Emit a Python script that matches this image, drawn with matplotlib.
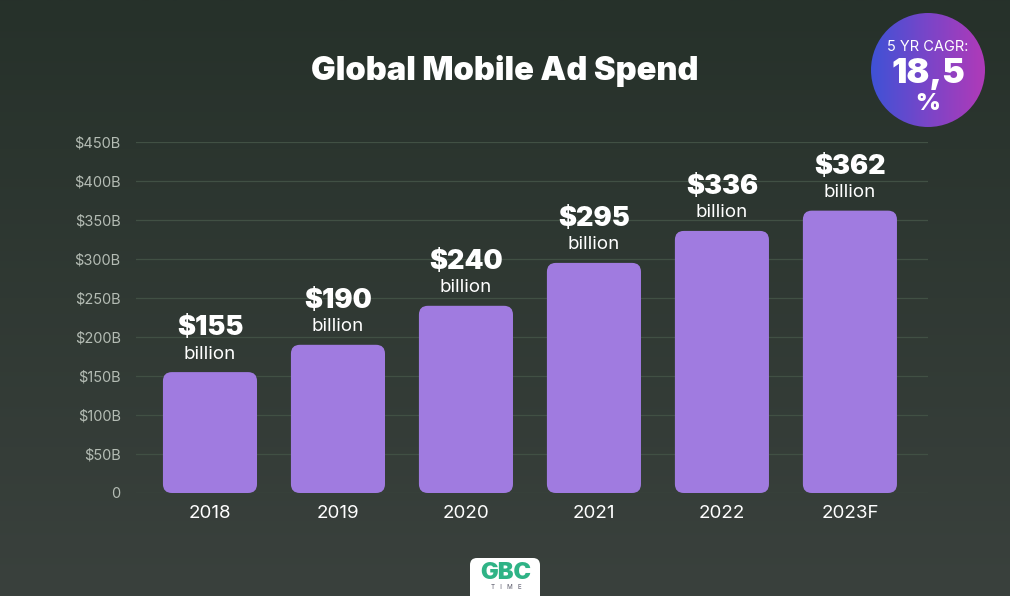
import numpy as np
import matplotlib
matplotlib.use("Agg")
import matplotlib.pyplot as plt
from matplotlib.patches import FancyBboxPatch, Circle
from matplotlib.colors import LinearSegmentedColormap

years = ["2018", "2019", "2020", "2021", "2022", "2023F"]
spend = [155, 190, 240, 295, 336, 362]
value_labels = ["$155", "$190", "$240", "$295", "$336", "$362"]
yticks = [0, 50, 100, 150, 200, 250, 300, 350, 400, 450]
ytick_labels = ["0", "$50B", "$100B", "$150B", "$200B", "$250B", "$300B", "$350B", "$400B", "$450B"]
title = "Global Mobile Ad Spend"
cagr_label = "5 YR CAGR:"
cagr_value = "18,5"

W, H = 1010, 596
fig = plt.figure(figsize=(W / 100, H / 100), dpi=100)

# background gradient
bg = fig.add_axes([0, 0, 1, 1], zorder=-10)
grad = np.linspace(0, 1, 256).reshape(-1, 1)
cmap_bg = LinearSegmentedColormap.from_list("bg", ["#26312a", "#3a413d"])
bg.imshow(grad, aspect="auto", cmap=cmap_bg, extent=[0, 1, 0, 1], origin="upper")
bg.set_xlim(0, 1); bg.set_ylim(0, 1)
bg.axis("off")

ax = fig.add_axes([136 / W, 1 - 493 / H, (928 - 136) / W, (493 - 142) / H])
ax.set_facecolor("none")
x = np.arange(len(years))
ax.set_xlim(-0.578, 5.61)
ax.set_ylim(0, 450)

bar_w = 0.735
xunit_px = 128.0
yunit_px = 351 / 450
aspect = xunit_px / yunit_px
for xi, v in zip(x, spend):
    p = FancyBboxPatch((xi - bar_w / 2, 0), bar_w, v,
                       boxstyle="round,pad=0,rounding_size=0.07",
                       mutation_aspect=aspect,
                       facecolor="#a07be0", edgecolor="none", zorder=3)
    ax.add_patch(p)

for xi, v, lab in zip(x, spend, value_labels):
    ax.annotate(lab, (xi, v), xytext=(0, 44 * 0.72), textcoords="offset points",
                ha="center", va="center", color="white",
                fontsize=19.5, fontweight="black", family="Inter", zorder=4)
    ax.annotate("billion", (xi, v), xytext=(0, 18 * 0.72), textcoords="offset points",
                ha="center", va="center", color="white",
                fontsize=13.5, family="Inter", zorder=4)

ax.set_yticks(yticks)
ax.set_yticklabels(ytick_labels, color="#b4bcb4", fontsize=10.5, family="Inter")
ax.set_xticks(x)
ax.set_xticklabels(years, color="white", fontsize=13.5, family="Inter")
ax.tick_params(axis="both", length=0)
ax.tick_params(axis="y", pad=11)
ax.tick_params(axis="x", pad=9)
ax.grid(axis="y", color="#415044", linewidth=0.9, zorder=0)
for s in ax.spines.values():
    s.set_visible(False)

fig.text(505 / W, 1 - 71 / H, title, ha="center", va="center", color="white",
         fontsize=23.5, fontweight="black", family="Inter")

# CAGR badge
bd = fig.add_axes([0, 0, 1, 1], zorder=5)
bd.set_xlim(0, W); bd.set_ylim(H, 0)
bd.axis("off")
cx, cy, r = 928, 70, 57
gx = np.linspace(0, 1, 256).reshape(1, -1)
cmap_b = LinearSegmentedColormap.from_list("b", ["#3f52d6", "#7a45c8", "#b03ab8"])
im = bd.imshow(gx, extent=[cx - r, cx + r, cy + r, cy - r], cmap=cmap_b, aspect="auto", zorder=1)
circ = Circle((cx, cy), r, transform=bd.transData)
im.set_clip_path(circ)
bd.text(cx, 47, cagr_label, ha="center", va="center", color="white", fontsize=10.5, family="Inter", zorder=2)
bd.text(cx, 83, cagr_value, ha="center", va="baseline", color="white", fontsize=24.5, fontweight="black", family="Inter", zorder=2)
bd.text(cx, 110, "%", ha="center", va="baseline", color="white", fontsize=17, fontweight="black", family="Inter", zorder=2)

# logo
logo = FancyBboxPatch((470, 558), 70, 50, boxstyle="round,pad=0,rounding_size=7",
                      facecolor="white", edgecolor="none", zorder=1)
bd.add_patch(logo)
bd.text(506, 573, "GBC", ha="center", va="center", color="#2fb386", fontsize=17,
        fontweight="black", family="Inter", zorder=2)
bd.text(506, 587, "T   I   M   E", ha="center", va="center", color="#556", fontsize=4.5,
        family="Inter", zorder=2)

fig.savefig("out.png", dpi=100)
